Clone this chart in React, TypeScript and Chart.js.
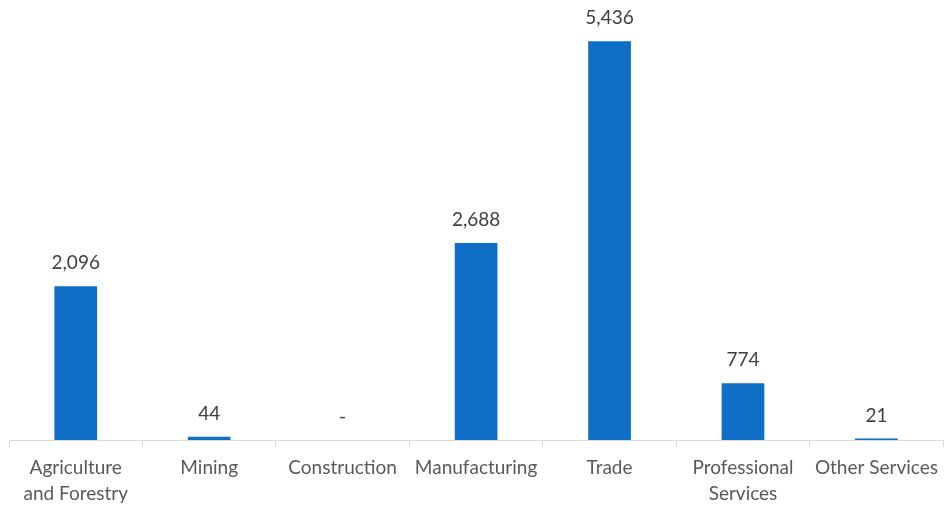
import React, { useEffect, useRef } from "react";
import { Chart, registerables } from "chart.js";

Chart.register(...registerables);

const categories: (string | string[])[] = [
  ["Agriculture", "and Forestry"],
  "Mining",
  "Construction",
  "Manufacturing",
  "Trade",
  ["Professional", "Services"],
  "Other Services",
];
const values: number[] = [2096, 44, 0, 2688, 5436, 774, 21];

const FONT = "Lato, 'Open Sans', sans-serif";

const labelPlugin = {
  id: "valueLabels",
  afterDatasetsDraw(chart: any) {
    const ctx = chart.ctx;
    const meta = chart.getDatasetMeta(0);
    ctx.save();
    ctx.fillStyle = "#404040";
    ctx.font = `19px ${FONT}`;
    ctx.textAlign = "center";
    ctx.textBaseline = "middle";
    meta.data.forEach((bar: any, i: number) => {
      const v = values[i];
      const txt = v === 0 ? "-" : v.toLocaleString("en-US");
      ctx.fillText(txt, bar.x, bar.y - 23);
    });
    ctx.restore();
  },
};

export default function App() {
  const ref = useRef<HTMLCanvasElement>(null);
  useEffect(() => {
    if (!ref.current) return;
    const chart = new Chart(ref.current, {
      type: "bar",
      data: {
        labels: categories,
        datasets: [
          {
            data: values,
            backgroundColor: "#0F6EC6",
            barPercentage: 0.64,
            categoryPercentage: 0.5,
          },
        ],
      },
      options: {
        animation: false,
        responsive: false,
        maintainAspectRatio: false,
        layout: { padding: { left: 9, right: 0, top: 0, bottom: 0 } },
        plugins: { legend: { display: false }, tooltip: { enabled: false } },
        scales: {
          y: { display: false, min: 0, max: 6000 },
          x: {
            afterFit(scale: any) {
              scale.height = 68;
            },
            border: { display: true, color: "#d9d9d9", width: 1 },
            grid: {
              display: true,
              offset: true,
              drawOnChartArea: false,
              drawTicks: true,
              tickLength: 7,
              color: "#d9d9d9",
            },
            ticks: {
              color: "#595959",
              font: { family: FONT, size: 19, lineHeight: 1.37 },
              maxRotation: 0,
              autoSkip: false,
              padding: 8,
            },
          },
        },
      },
      plugins: [labelPlugin],
    });
    return () => chart.destroy();
  }, []);
  return (
    <div style={{ position: "absolute", left: 0, top: 0, width: 946, height: 508, background: "#fff" }}>
      <canvas ref={ref} width={946} height={508} style={{ display: "block" }} />
    </div>
  );
}
